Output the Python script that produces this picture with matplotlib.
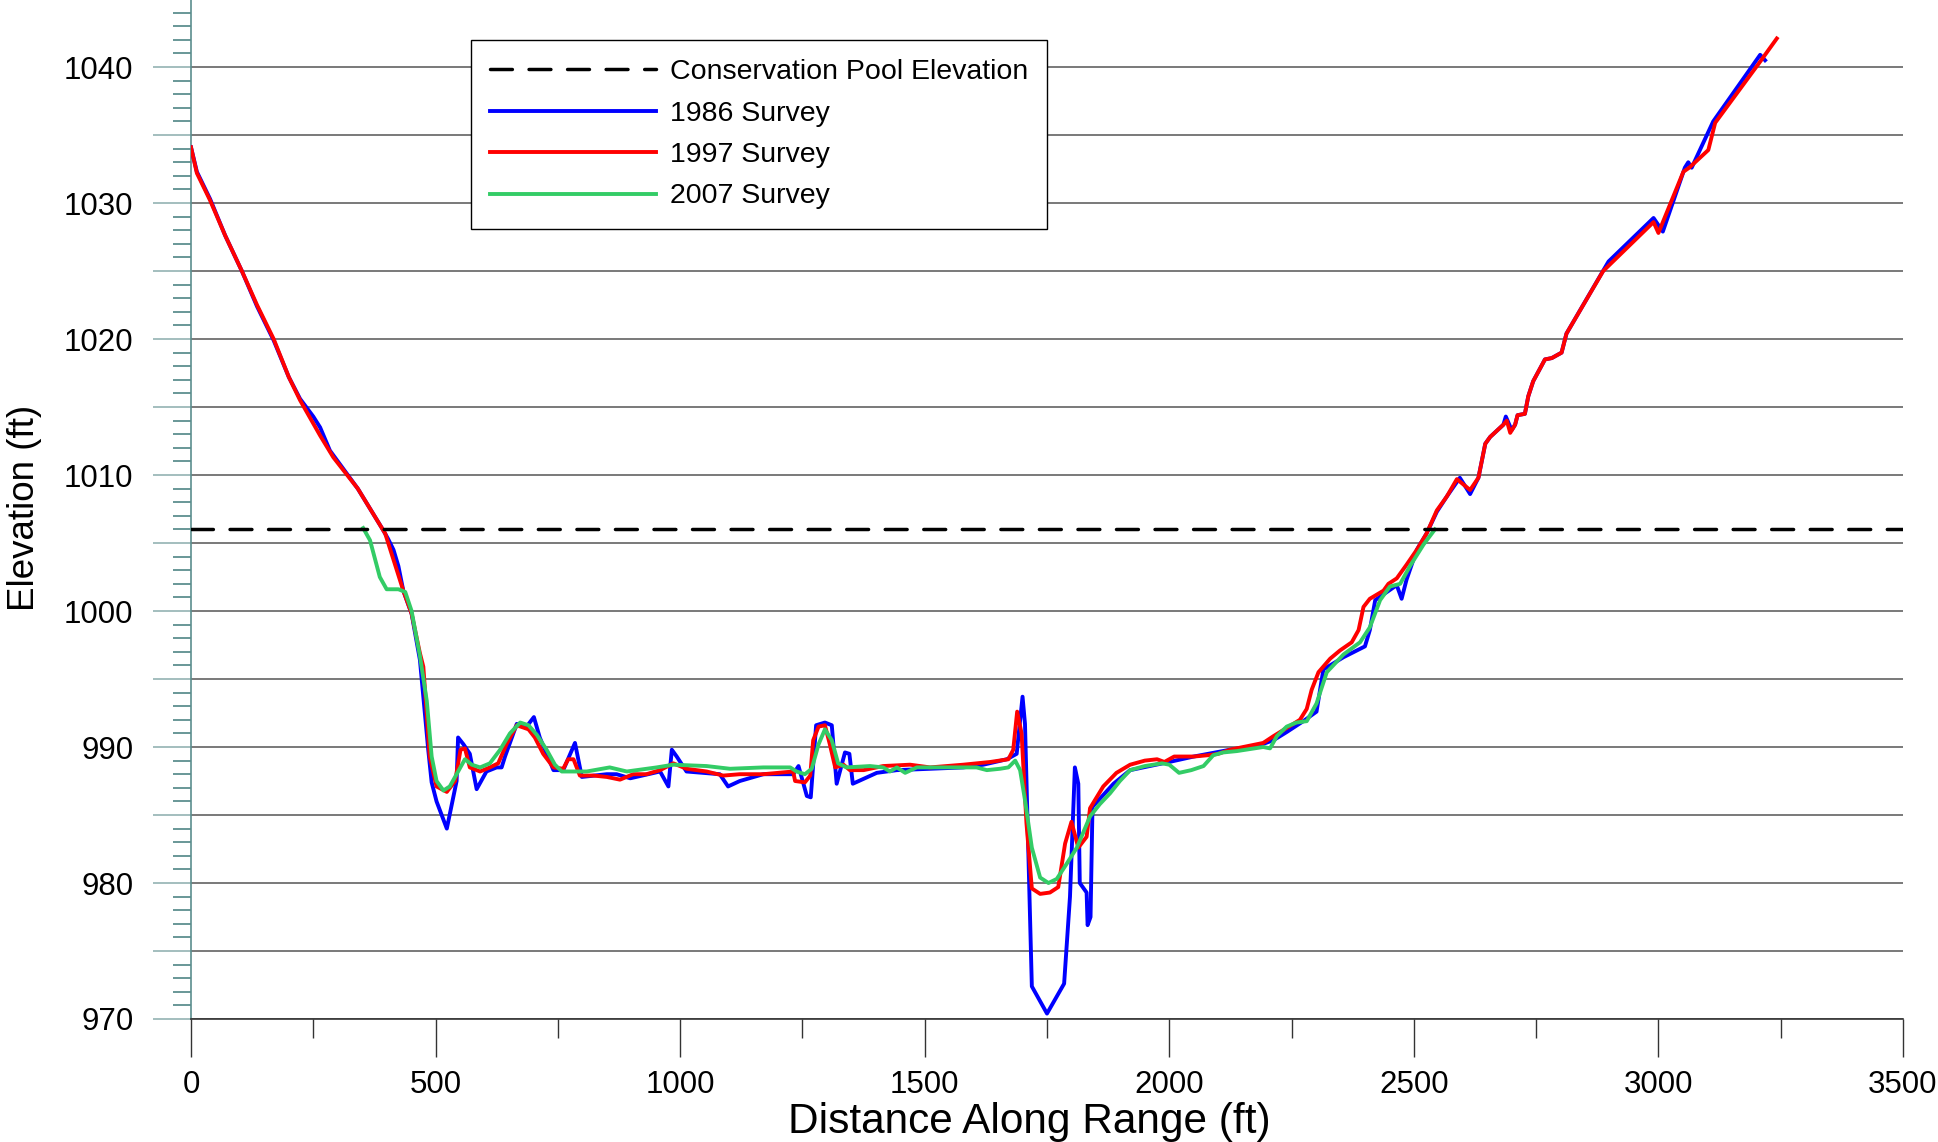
import matplotlib
matplotlib.use("Agg")
import matplotlib.pyplot as plt
from matplotlib.ticker import MultipleLocator, FuncFormatter

plt.rcParams['font.family'] = ['Liberation Sans', 'DejaVu Sans']

# ---------------- data ----------------
pool_elevation = 1006.0

dist_1986 = [0, 12, 39, 70, 104, 135, 169, 200, 223, 250, 264, 284, 341, 392, 403, 414, 424, 434, 451, 468,
             485, 492, 502, 523, 543, 546, 557, 570, 584, 604, 625, 635, 642, 666, 686, 701, 713,
             741, 761, 785, 799, 850, 870, 898, 959, 976, 983, 993, 1013, 1081, 1098, 1122, 1170,
             1231, 1242, 1259, 1267, 1278, 1296, 1310, 1320, 1337, 1346, 1353, 1402, 1443, 1511,
             1579, 1620, 1668, 1688, 1700, 1705, 1719, 1750, 1785, 1797, 1807, 1814, 1817, 1831,
             1833, 1839, 1843, 1886, 1920, 2000, 2050, 2124, 2182, 2213, 2240, 2274, 2301, 2315,
             2356, 2400, 2410, 2421, 2465, 2475, 2485, 2506, 2526, 2547, 2567, 2594, 2615, 2632,
             2646, 2656, 2683, 2688, 2700, 2707, 2712, 2727, 2734, 2744, 2768, 2782, 2802, 2812,
             2898, 2990, 3009, 3054, 3061, 3068, 3112, 3208, 3218]
elev_1986 = [1034.1, 1032.3, 1030.3, 1027.6, 1025.0, 1022.4, 1019.9, 1017.2, 1015.6, 1014.3, 1013.5,
             1011.8, 1009.0,
             1006.0, 1005.3, 1004.5, 1003.3, 1001.5, 999.8, 996.4, 989.8, 987.4, 986.0, 984.0, 987.5,
             990.7, 990.2, 989.5, 986.9, 988.2, 988.5, 988.5, 989.3, 991.7, 991.5, 992.2, 990.7,
             988.3, 988.3, 990.3, 987.8, 988.0, 988.0, 987.7, 988.2, 987.1, 989.8, 989.3, 988.2,
             988.0, 987.1, 987.5, 988.0, 988.0, 988.6, 986.4, 986.3, 991.6, 991.8, 991.6, 987.3,
             989.6, 989.5, 987.3, 988.1, 988.3, 988.4, 988.5, 988.7, 989.1, 989.5, 993.7, 991.7,
             972.4, 970.4, 972.6, 979.0, 988.5, 987.3, 980.0, 979.3, 976.9, 977.5, 985.6, 987.3,
             988.3, 988.9, 989.3, 989.8, 990.1, 990.5, 991.1, 991.9, 992.6, 995.7, 996.6, 997.4,
             998.6, 1000.8, 1001.9, 1000.9, 1002.3, 1004.5, 1005.7, 1007.3, 1008.4, 1009.8, 1008.6,
             1009.8, 1012.3, 1012.8, 1013.7, 1014.3, 1013.3, 1013.7, 1014.4, 1014.5, 1015.8, 1016.9,
             1018.5, 1018.6, 1019.0, 1020.4, 1025.7, 1028.9, 1027.9, 1032.6, 1033.0, 1032.6, 1036.0,
             1040.9, 1040.5]

dist_1997 = [0, 12, 39, 70, 104, 135, 169, 200, 223, 264, 291, 341, 392, 397, 434, 451, 468, 475, 488, 502,
             523, 540, 551, 560, 570, 591, 611, 628, 645, 666, 690, 703, 720, 741, 761, 771, 782,
             795, 823, 850, 877, 904, 931, 959, 986, 1013, 1054, 1088, 1122, 1170, 1231, 1235, 1255,
             1266, 1272, 1283, 1296, 1306, 1317, 1334, 1347, 1375, 1415, 1470, 1511, 1579, 1634,
             1671, 1681, 1689, 1698, 1708, 1719, 1736, 1756, 1773, 1787, 1800, 1814, 1831, 1838,
             1865, 1892, 1920, 1950, 1975, 1990, 2010, 2050, 2080, 2100, 2124, 2192, 2213, 2240,
             2267, 2281, 2291, 2305, 2329, 2349, 2373, 2387, 2397, 2410, 2438, 2448, 2465, 2485,
             2506, 2526, 2547, 2567, 2588, 2615, 2632, 2646, 2656, 2683, 2690, 2697, 2707, 2712,
             2727, 2734, 2744, 2768, 2782, 2802, 2812, 2887, 2990, 3000, 3051, 3063, 3102, 3116,
             3208, 3242]
elev_1997 = [1034.1, 1032.2, 1030.2, 1027.6, 1025.0, 1022.5, 1020.0, 1017.2, 1015.5, 1012.9, 1011.3,
             1009.0, 1006.0,
             1005.7, 1001.5, 999.8, 996.9, 995.9, 989.3, 987.1, 986.7, 987.5, 989.8, 989.9, 988.5,
             988.2, 988.5, 988.8, 990.2, 991.6, 991.3, 990.7, 989.5, 988.5, 988.4, 989.1, 989.1,
             987.9, 987.9, 987.8, 987.6, 988.0, 988.0, 988.3, 988.8, 988.4, 988.2, 987.9, 988.0,
             988.0, 988.2, 987.5, 987.4, 987.9, 990.5, 991.5, 991.6, 990.2, 988.5, 988.7, 988.3,
             988.3, 988.6, 988.7, 988.5, 988.7, 988.9, 989.1, 989.8, 992.6, 991.0, 984.4, 979.6,
             979.2, 979.3, 979.7, 982.9, 984.5, 982.6, 983.4, 985.5, 987.1, 988.1, 988.7, 989.0,
             989.1, 988.9, 989.3, 989.3, 989.4, 989.5, 989.8, 990.3, 990.8, 991.4, 992.0, 992.8,
             994.2, 995.5, 996.5, 997.1, 997.7, 998.6, 1000.3, 1000.9, 1001.5, 1002.0, 1002.4,
             1003.4, 1004.5, 1005.7, 1007.4, 1008.4, 1009.7, 1008.9, 1009.8, 1012.3, 1012.8, 1013.7,
             1014.0, 1013.1, 1013.7, 1014.4, 1014.5, 1015.8, 1016.9, 1018.5, 1018.6, 1019.0, 1020.4,
             1025.0, 1028.6, 1027.8, 1032.3, 1032.6, 1033.9, 1035.9, 1040.4, 1042.1]

dist_2007 = [352, 366, 386, 400, 424, 438, 451, 468, 482, 492, 502, 516, 529, 543, 560, 574, 591,
             611, 632, 652, 673, 690, 707, 727, 744, 758, 782, 809, 856, 891, 952, 986, 1054, 1102,
             1170, 1225, 1238, 1255, 1269, 1283, 1296, 1310, 1323, 1340, 1388, 1415, 1429, 1443,
             1460, 1484, 1545, 1606, 1627, 1654, 1671, 1685, 1695, 1705, 1719, 1736, 1753, 1770,
             1790, 1811, 1838, 1858, 1879, 1899, 1920, 1950, 1985, 2000, 2020, 2045, 2070, 2090,
             2110, 2138, 2192, 2206, 2220, 2240, 2260, 2281, 2301, 2322, 2356, 2390, 2410, 2431,
             2451, 2472, 2492, 2520, 2543]
elev_2007 = [1006.1, 1005.2, 1002.5, 1001.6, 1001.6, 1001.4, 1000.0, 996.7, 993.4, 989.3, 987.5,
             986.8, 987.1, 988.0, 989.1, 988.7, 988.5, 988.8, 989.8, 991.0, 991.8, 991.6, 990.9,
             989.8, 988.7, 988.2, 988.2, 988.2, 988.5, 988.2, 988.5, 988.7, 988.6, 988.4, 988.5,
             988.5, 988.2, 988.0, 988.4, 990.2, 991.3, 990.5, 988.8, 988.5, 988.6, 988.5, 988.2,
             988.5, 988.1, 988.5, 988.5, 988.5, 988.3, 988.4, 988.5, 989.0, 988.3, 986.1, 982.6,
             980.4, 980.0, 980.3, 981.4, 982.6, 984.9, 985.8, 986.6, 987.5, 988.3, 988.6, 988.8,
             988.7, 988.1, 988.3, 988.6, 989.4, 989.6, 989.7, 990.0, 989.9, 990.8, 991.5, 991.8,
             991.9, 993.2, 995.5, 996.8, 997.7, 998.8, 1000.8, 1001.8, 1002.0, 1003.3, 1004.9, 1006.0]

x_ticks = [0, 500, 1000, 1500, 2000, 2500, 3000, 3500]
legend_labels = ["Conservation Pool Elevation", "1986 Survey", "1997 Survey", "2007 Survey"]

# ---------------- figure ----------------
W, H = 1938, 1142
fig = plt.figure(figsize=(W / 100, H / 100), dpi=100)
ax = fig.add_axes([191 / W, 123 / H, 1712 / W, 1019 / H])
ax.set_xlim(0, 3500)
ax.set_ylim(970, 1044.93)

ax.yaxis.set_major_locator(MultipleLocator(5))
ax.yaxis.set_minor_locator(MultipleLocator(1))
ax.yaxis.set_major_formatter(FuncFormatter(lambda v, p: f"{int(round(v))}" if round(v) % 10 == 0 else ""))
ax.xaxis.set_major_locator(MultipleLocator(500))
ax.xaxis.set_minor_locator(MultipleLocator(250))
ax.set_xticks(x_ticks)
ax.grid(axis='y', which='major', color='#555555', linewidth=1.1, zorder=1)
ax.set_axisbelow(True)

lw = 2.8
l_pool = ax.axhline(pool_elevation, color='black', linewidth=2.5, dashes=(6.3, 4.8),
                    dash_capstyle='round', zorder=6)
l86, = ax.plot(dist_1986, elev_1986, color='#0000ff', linewidth=lw, zorder=3, solid_joinstyle='round')
l97, = ax.plot(dist_1997, elev_1997, color='#ff0000', linewidth=lw, zorder=4, solid_joinstyle='round')
l07, = ax.plot(dist_2007, elev_2007, color='#33cc66', linewidth=lw, zorder=5, solid_joinstyle='round')

for s in ('top', 'right'):
    ax.spines[s].set_visible(False)
ax.spines['left'].set_color('#5b8e8e')
ax.spines['left'].set_linewidth(1.2)
ax.spines['bottom'].set_color('#333333')
ax.spines['bottom'].set_linewidth(1.2)

ax.tick_params(axis='y', which='major', length=27.4, width=1.2, color='#93b3b3',
               labelsize=22.5, pad=14)
ax.tick_params(axis='y', which='minor', length=13, width=1.2, color='#4f8585')
ax.tick_params(axis='x', which='major', length=27.4, width=1.0, color='#333333',
               labelsize=22.5, pad=9)
ax.tick_params(axis='x', which='minor', length=13.7, width=1.0, color='#333333')

ax.set_xlabel("Distance Along Range (ft)", fontsize=30.5, va='baseline')
ax.xaxis.set_label_coords(0.4895, -0.1119)
ax.set_ylabel("Elevation (ft)", fontsize=26.5, va='center', ha='center')
ax.yaxis.set_label_coords(-0.097, 0.502)

leg = fig.legend([l_pool, l86, l97, l07], legend_labels, loc='upper left',
                 bbox_to_anchor=(471 / W, 1 - 40 / H), bbox_transform=fig.transFigure,
                 fontsize=20.5, frameon=True, fancybox=False, edgecolor='black',
                 framealpha=1.0, borderaxespad=0, handlelength=5.8, handletextpad=0.5,
                 borderpad=0.68, labelspacing=0.54)
leg.get_frame().set_linewidth(1.0)

fig.savefig("out.png", dpi=100)
